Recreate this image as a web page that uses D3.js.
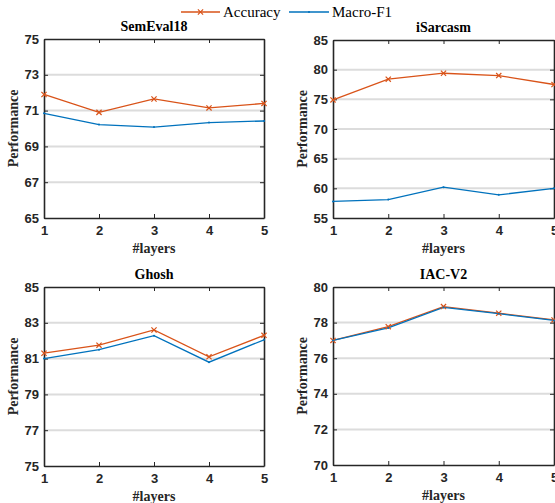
<!DOCTYPE html>
<html>
  <head>
    <meta charset="utf-8">
    <title>Performance vs #layers</title>
    <style media="screen">
      body { margin: 0; background: #fff; }
      svg { display: block; font-family: "Liberation Serif", "DejaVu Serif", serif; }
      .tick text { font-size: 13px; font-weight: bold; fill: #262626; }
      .title { font-size: 14px; font-weight: bold; fill: #000; text-anchor: middle; }
      .axisLabel { font-size: 14px; font-weight: bold; fill: #262626; text-anchor: middle; }
      .legendText { font-size: 15px; fill: #000; }
    </style>
  </head>
  <body>
    <div class="container"></div>
    <script src="https://cdn.jsdelivr.net/npm/d3@7"></script>
    <script type="text/javascript">
    var width = 555;
    var height = 503;

    // data
    var layers = [1, 2, 3, 4, 5];
    var datasets = ["SemEval18", "iSarcasm", "Ghosh", "IAC-V2"];
    var accSemEval = [71.9, 70.9, 71.65, 71.15, 71.4];
    var f1SemEval = [70.85, 70.22, 70.08, 70.33, 70.42];
    var accISarcasm = [74.9, 78.4, 79.4, 79.0, 77.5];
    var f1ISarcasm = [57.8, 58.1, 60.2, 58.9, 60.0];
    var accGhosh = [81.3, 81.75, 82.6, 81.1, 82.3];
    var f1Ghosh = [81.0, 81.5, 82.28, 80.8, 82.05];
    var accIAC = [77.0, 77.77, 78.9, 78.53, 78.15];
    var f1IAC = [77.0, 77.7, 78.85, 78.5, 78.12];
    var yDomains = [[65, 75], [55, 85], [75, 85], [70, 80]];
    var yTicks = [[65, 67, 69, 71, 73, 75], [55, 60, 65, 70, 75, 80, 85], [75, 77, 79, 81, 83, 85], [70, 72, 74, 76, 78, 80]];
    var accSeries = [accSemEval, accISarcasm, accGhosh, accIAC];
    var f1Series = [f1SemEval, f1ISarcasm, f1Ghosh, f1IAC];

    var accColor = "#D95319";
    var f1Color = "#0072BD";
    var axisColor = "#262626";

    // panel boxes
    var panels = [
      { left: 44, top: 39, w: 220, h: 179 },
      { left: 333, top: 40, w: 221, h: 178 },
      { left: 44, top: 287, w: 220, h: 179 },
      { left: 333, top: 287, w: 221, h: 178 }
    ];

    var svg = d3.select(".container")
        .append("svg")
        .attr("width", width)
        .attr("height", height);

    panels.forEach(function(p, k) {
      var g = svg.append("g").attr("transform", "translate(" + p.left + "," + p.top + ")");

      var x = d3.scaleLinear().domain([1, 5]).range([0, p.w]);
      var y = d3.scaleLinear().domain(yDomains[k]).range([p.h, 0]);

      // grid
      g.selectAll(".grid")
          .data(yTicks[k].slice(1, -1))
          .enter()
          .append("line")
          .attr("x1", 0)
          .attr("x2", p.w)
          .attr("y1", function(d) { return y(d); })
          .attr("y2", function(d) { return y(d); })
          .attr("stroke", "#dcdcdc")
          .attr("stroke-width", 2);

      // axes
      var xAxis = d3.axisBottom(x).tickValues(layers).tickFormat(d3.format("d")).tickSizeInner(-4).tickSizeOuter(0).tickPadding(8);
      var xTop = d3.axisTop(x).tickValues(layers).tickFormat("").tickSizeInner(-4).tickSizeOuter(0);
      var yAxis = d3.axisLeft(y).tickValues(yTicks[k]).tickSizeInner(-4).tickSizeOuter(0).tickPadding(5);
      var yRight = d3.axisRight(y).tickValues(yTicks[k]).tickFormat("").tickSizeInner(-4).tickSizeOuter(0);

      g.append("g").attr("transform", "translate(0," + p.h + ")").call(xAxis);
      g.append("g").call(xTop);
      g.append("g").call(yAxis);
      g.append("g").attr("transform", "translate(" + p.w + ",0)").call(yRight);

      g.selectAll(".domain").attr("stroke", axisColor).attr("stroke-width", 1.6);
      g.selectAll(".tick line").attr("stroke", axisColor).attr("stroke-width", 1);

      var line = d3.line()
          .x(function(d, i) { return x(layers[i]); })
          .y(function(d) { return y(d); });

      g.append("path")
          .datum(accSeries[k])
          .attr("fill", "none")
          .attr("stroke", accColor)
          .attr("stroke-width", 1.3)
          .attr("d", line);

      g.append("path")
          .datum(f1Series[k])
          .attr("fill", "none")
          .attr("stroke", f1Color)
          .attr("stroke-width", 1.3)
          .attr("d", line);

      // x markers for accuracy
      var s = 2.6;
      g.selectAll(".accMark")
          .data(accSeries[k])
          .enter()
          .append("path")
          .attr("class", "accMark")
          .attr("d", function(d, i) {
            var cx = x(layers[i]), cy = y(d);
            return "M" + (cx - s) + "," + (cy - s) + "L" + (cx + s) + "," + (cy + s) +
                   "M" + (cx - s) + "," + (cy + s) + "L" + (cx + s) + "," + (cy - s);
          })
          .attr("stroke", accColor)
          .attr("stroke-width", 1.2);

      // small dots for macro-f1
      g.selectAll(".f1Mark")
          .data(f1Series[k])
          .enter()
          .append("circle")
          .attr("cx", function(d, i) { return x(layers[i]); })
          .attr("cy", function(d) { return y(d); })
          .attr("r", 1)
          .attr("fill", f1Color);

      g.append("text")
          .attr("class", "title")
          .attr("x", p.w / 2)
          .attr("y", -8)
          .text(datasets[k]);

      g.append("text")
          .attr("class", "axisLabel")
          .attr("x", p.w / 2)
          .attr("y", p.h + 35)
          .text("#layers");

      g.append("text")
          .attr("class", "axisLabel")
          .attr("transform", "translate(-26," + (p.h / 2) + ") rotate(-90)")
          .text("Performance");
    });

    // legend
    var legend = svg.append("g").attr("transform", "translate(0,12)");
    var items = [
      { name: "Accuracy", color: accColor, x0: 181, x1: 220, tx: 223, mark: "x" },
      { name: "Macro-F1", color: f1Color, x0: 289, x1: 329, tx: 332, mark: "dot" }
    ];
    items.forEach(function(it) {
      legend.append("line")
          .attr("x1", it.x0).attr("x2", it.x1)
          .attr("y1", 0).attr("y2", 0)
          .attr("stroke", it.color)
          .attr("stroke-width", 1.3);
      var cx = (it.x0 + it.x1) / 2;
      if (it.mark === "x") {
        legend.append("path")
            .attr("d", "M" + (cx - 2.6) + ",-2.6L" + (cx + 2.6) + ",2.6M" + (cx - 2.6) + ",2.6L" + (cx + 2.6) + ",-2.6")
            .attr("stroke", it.color)
            .attr("stroke-width", 1.2);
      } else {
        legend.append("circle").attr("cx", cx).attr("cy", 0).attr("r", 1).attr("fill", it.color);
      }
      legend.append("text")
          .attr("class", "legendText")
          .attr("x", it.tx)
          .attr("y", 5)
          .text(it.name);
    });
    </script>
  </body>
</html>
